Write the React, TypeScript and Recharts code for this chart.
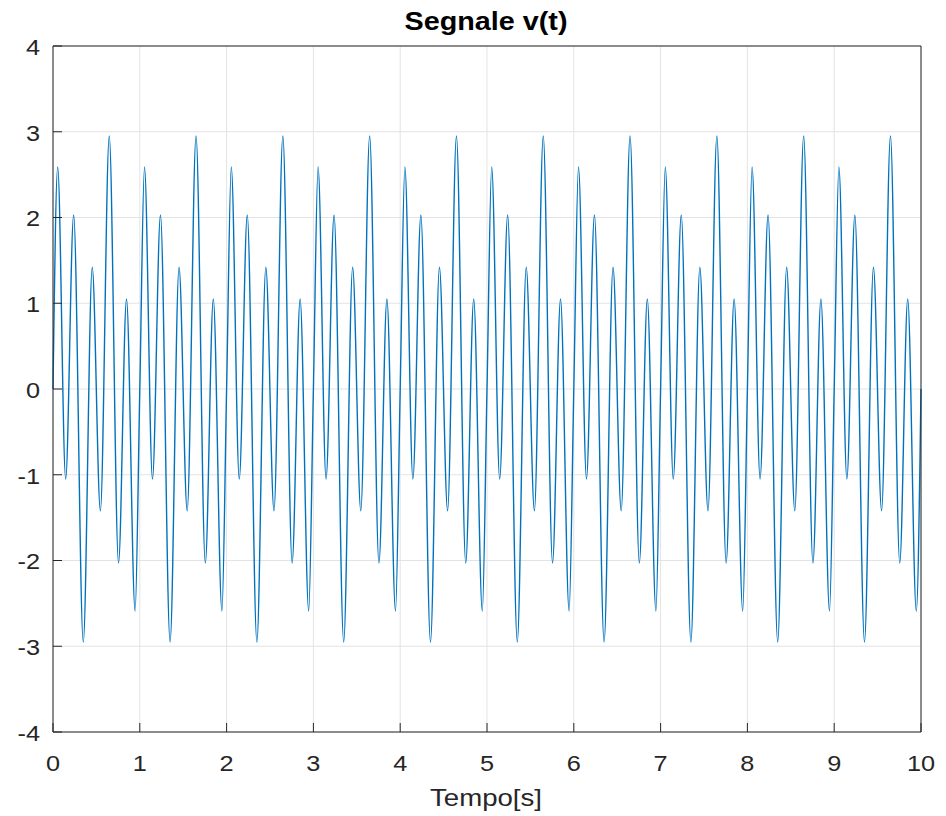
import { LineChart, Line, XAxis, YAxis, CartesianGrid } from "recharts"

// one period of the signal (times within the period, values at the extrema)
const cycleStarts = [0, 1, 2, 3, 4, 5, 6, 7, 8, 9]
const cycleTimes = [0, 0.054, 0.146, 0.238, 0.349, 0.452, 0.546, 0.648, 0.755, 0.847, 0.946]
const cycleValues = [0, 2.59, -1.05, 2.03, -2.95, 1.42, -1.42, 2.95, -2.03, 1.05, -2.59]
const lastPoint = { t: 10, v: 0 }

const xTicks = [0, 1, 2, 3, 4, 5, 6, 7, 8, 9, 10]
const yTicks = [-4, -3, -2, -1, 0, 1, 2, 3, 4]

const data = cycleStarts
    .flatMap(start => cycleTimes.map((c, i) => ({ t: start + c, v: cycleValues[i] })))
    .concat([lastPoint])

const axisColor = "#262626"
const font = "Arial, 'Liberation Sans', Helvetica, sans-serif"
const stretch = 1.15

const BottomTick = (props: any) => {
    const { x, y, payload } = props
    return (
        <text x={x} y={y + 16} textAnchor="middle" fill={axisColor} fontSize={22} fontFamily={font}
            transform={`translate(${x},0) scale(${stretch},1) translate(${-x},0)`}>
            {payload.value}
        </text>
    )
}

const LeftTick = (props: any) => {
    const { x, y, payload } = props
    return (
        <text x={x} y={y + 9} textAnchor="end" fill={axisColor} fontSize={22} fontFamily={font}
            transform={`translate(${x},0) scale(${stretch},1) translate(${-x},0)`}>
            {payload.value}
        </text>
    )
}

export default function App() {
    return (
        <div style={{ position: "absolute", left: 0, top: 0, width: 946, height: 816, background: "#fff", fontFamily: font }}>
            <div style={{ position: "absolute", left: 0, top: 9, width: 972, textAlign: "center", fontSize: 25, lineHeight: "25px", fontWeight: "bold", color: "#000", transform: `scaleX(${stretch})`, transformOrigin: "486px 0" }}>
                Segnale v(t)
            </div>
            <div style={{ position: "absolute", left: 0, top: 786, width: 972, textAlign: "center", fontSize: 24, lineHeight: "24px", color: axisColor, transform: `scaleX(${stretch})`, transformOrigin: "486px 0" }}>
                Tempo[s]
            </div>
            <LineChart width={946} height={816} data={data} margin={{ top: 41, right: 20, bottom: 0, left: 0 }}>
                <CartesianGrid xAxisId="bottom" yAxisId="left" stroke="#e3e3e3" strokeWidth={1} />
                <XAxis xAxisId="bottom" dataKey="t" type="number" domain={[0, 10]} ticks={xTicks} height={84}
                    stroke={axisColor} tickSize={-9} tickMargin={32} tick={BottomTick} interval={0} />
                <XAxis xAxisId="top" orientation="top" dataKey="t" type="number" domain={[0, 10]} ticks={xTicks} height={5}
                    stroke={axisColor} tickSize={-9} tick={false} interval={0} />
                <YAxis yAxisId="left" type="number" domain={[-4, 4]} ticks={yTicks} width={53}
                    stroke={axisColor} tickSize={-9} tickMargin={22} tick={LeftTick} interval={0} />
                <YAxis yAxisId="right" orientation="right" type="number" domain={[-4, 4]} ticks={yTicks} width={5}
                    stroke={axisColor} tickSize={-9} tick={false} interval={0} />
                <Line xAxisId="bottom" yAxisId="left" type="monotone" dataKey="v" stroke="#0072BD" strokeWidth={1.4}
                    dot={false} isAnimationActive={false} />
            </LineChart>
        </div>
    )
}
